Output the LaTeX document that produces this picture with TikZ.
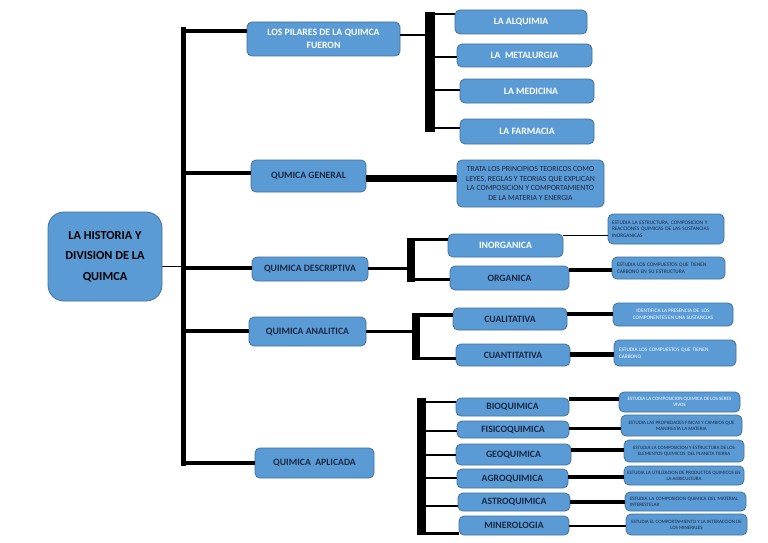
\documentclass[tikz,border=0pt]{standalone}
\usepackage{fontspec}
\setmainfont{Carlito}
\definecolor{boxfill}{HTML}{5B9BD5}
\definecolor{boxline}{HTML}{41719C}
\definecolor{txtdark}{HTML}{1B2740}
\tikzset{
  box/.style={draw=boxline, fill=boxfill, rounded corners=5pt, line width=0.8pt,
    inner sep=1pt, align=center, text=txtdark,
    font=\bfseries\fontsize{9.7}{12.5}\selectfont},
  wbox/.style={box, text=white},
  tiny/.style={font=\fontsize{5.3}{6.7}\selectfont},
  tinier/.style={font=\fontsize{5.0}{6.1}\selectfont},
  barnode/.style={fill=black, draw=none, inner sep=0pt, rectangle},
  link/.style={draw=black, line width=#1},
  link/.default=3pt
}
\begin{document}
\begin{tikzpicture}[x=1pt,y=-1pt]
\useasboundingbox[fill=white] (0,0) rectangle (768,543);
% main
\node[box, rounded corners=16pt, minimum width=114pt, minimum height=89pt, text=black,
  font=\bfseries\fontsize{12.3}{20.5}\selectfont] (main) at (105,256.5)
  {LA HISTORIA Y\\DIVISION DE LA\\QUIMCA};
% bars
\node[barnode, minimum width=5pt, minimum height=439pt] (mainbar) at (183.5,246.5) {};
\node[barnode, minimum width=10pt, minimum height=120pt] (pilbar) at (430,72) {};
\node[barnode, minimum width=8pt, minimum height=44pt] (descbar) at (411,260) {};
\node[barnode, minimum width=8pt, minimum height=47pt] (analbar) at (416,336.5) {};
\node[barnode, minimum width=9pt, minimum height=137pt] (aplbar) at (421.5,466.5) {};
% level 1
\node[wbox, minimum width=153pt, minimum height=34pt] (pil) at (323.5,39) {LOS PILARES DE LA QUIMCA\\FUERON};
\node[box, minimum width=115pt, minimum height=32pt] (gen) at (308.5,176) {QUMICA GENERAL};
\node[box, minimum width=116pt, minimum height=24pt] (desc) at (310,269) {QUIMICA DESCRIPTIVA};
\node[box, minimum width=117pt, minimum height=29pt] (anal) at (307.5,331.5) {QUIMICA ANALITICA};
\node[box, minimum width=119pt, minimum height=30pt] (apl) at (314.5,463) {QUIMICA\ \ APLICADA};
% pilares
\node[wbox, minimum width=132pt, minimum height=24pt] (alq) at (521,22) {LA ALQUIMIA};
\node[wbox, minimum width=135pt, minimum height=23pt] (met) at (524.5,55.5) {LA\ \ METALURGIA};
\node[wbox, minimum width=134pt, minimum height=24pt] (med) at (527,91) {\hspace*{8pt}LA MEDICINA};
\node[wbox, minimum width=134pt, minimum height=25pt] (far) at (527,131.5) {LA FARMACIA};
% general
\node[box, minimum width=147pt, minimum height=47pt, font=\fontsize{7.8}{9.5}\selectfont] (trata) at (530.5,183.5)
  {TRATA LOS PRINCIPIOS TEORICOS COMO\\LEYES, REGLAS Y TEORIAS QUE EXPLICAN\\LA COMPOSICION Y COMPORTAMIENTO\\DE LA MATERIA Y ENERGIA};
% descriptiva
\node[wbox, minimum width=115pt, minimum height=23pt] (inorg) at (505.5,245.5) {INORGANICA};
\node[box, minimum width=119pt, minimum height=24pt] (org) at (509.5,278) {ORGANICA};
\node[box, tiny, minimum width=116pt, minimum height=30pt, text width=108pt, align=left] (inorgT) at (666,229)
  {ESTUDIA LA ESTRUCTURA, COMPOSICION Y\\REACCIONES QUIMICAS DE LAS SUSTANCIAS\\INORGANICAS};
\node[box, tiny, minimum width=113pt, minimum height=22pt, text width=103pt, align=left] (orgT) at (668.5,268)
  {ESTUDIA LOS COMPUESTOS QUE TIENEN\\CARBONO EN SU ESTRUCTURA};
% analitica
\node[box, minimum width=114pt, minimum height=22pt] (cual) at (510,319) {CUALITATIVA};
\node[box, minimum width=114pt, minimum height=22pt] (cuan) at (513,355) {CUANTITATIVA};
\node[wbox, tiny, minimum width=120pt, minimum height=23pt] (cualT) at (673,314.5)
  {IDENTIFICA LA PRESENCIA DE\ \ LOS\\COMPONENTES EN UNA SUSTANCIAS};
\node[wbox, tiny, minimum width=122pt, minimum height=26pt, text width=112pt, align=left] (cuanT) at (675,353)
  {ESTUDIA LOS COMPUESTOS QUE TIENEN\\CARBONO};
% aplicada
\node[box, minimum width=113pt, minimum height=18pt] (bio) at (512.5,407) {BIOQUIMICA};
\node[box, minimum width=112pt, minimum height=17pt] (fis) at (513,429.5) {FISICOQUIMICA};
\node[box, minimum width=115pt, minimum height=21pt] (geo) at (513.5,454.5) {GEOQUIMICA};
\node[box, minimum width=111pt, minimum height=19pt] (agro) at (512.5,478.5) {AGROQUIMICA};
\node[box, minimum width=112pt, minimum height=18pt] (astro) at (514,502) {ASTROQUIMICA};
\node[box, minimum width=110pt, minimum height=19pt] (mine) at (514,525.5) {MINEROLOGIA};
\node[wbox, tinier, minimum width=121pt, minimum height=20pt] (b1) at (679.5,402)
  {ESTUDIA LA COMPOSICION QUIMICA DE LOS SERES\\VIVOS};
\node[box, tinier, minimum width=121pt, minimum height=21pt] (b2) at (681.5,425.5)
  {ESTUDIA LAS PROPIEDADES FISICAS Y CAMBIOS QUE\\MANIFIESTA LA MATERIA};
\node[box, tinier, minimum width=120pt, minimum height=22pt] (b3) at (684,451)
  {ESTUDIA LA COMPOSICION Y ESTRUCTURA DE LOS\\ELEMENTOS QUIMICOS\ \ DEL PLANETA TIERRA};
\node[box, tinier, minimum width=120pt, minimum height=19pt] (b4) at (684,475.5)
  {ESTUDIA LA UTILIZACION DE PRODUCTOS QUIMICOS EN\\LA AGRICULTURA};
\node[box, tinier, minimum width=121pt, minimum height=19pt, text width=111pt, align=left] (b5) at (685.5,501.5)
  {ESTUDIA LA COMPOSICION QUIMICA DEL MATERIAL\\INTERESTELAR};
\node[box, tinier, minimum width=121pt, minimum height=21pt] (b6) at (686.5,524.5)
  {ESTUDIA EL COMPORTAMIENTO Y LA INTERACCION DE\\LOS MINERALES};
% connectors: main
\draw[link=1pt] (main.east |- 0,266) -- (mainbar.center |- 0,266);
\draw[link=4pt] (mainbar.center |- 0,31) -- (pil.west |- 0,31);
\draw[link=4pt] (mainbar.center |- 0,173) -- (gen.west |- 0,173);
\draw[link=4pt] (mainbar.center |- 0,268) -- (desc.west |- 0,268);
\draw[link=4pt] (mainbar.center |- 0,331) -- (anal.west |- 0,331);
\draw[link=4pt] (mainbar.center |- 0,463) -- (apl.west |- 0,463);
% pilares
\draw[link=1.5pt] (pil.east |- 0,35) -- (pilbar.center |- 0,35);
\draw[link=1.5pt] (pilbar.center |- 0,14) -- (alq.west |- 0,14);
\draw[link=1.5pt] (pilbar.center |- 0,57) -- (met.west |- 0,57);
\draw[link=1.5pt] (pilbar.center |- 0,90) -- (med.west |- 0,90);
\draw[link=1.5pt] (pilbar.center |- 0,128) -- (far.west |- 0,128);
% general
\draw[link=7pt] (gen.east |- 0,178) -- (trata.west |- 0,178);
% descriptiva
\draw[link=3pt] (desc.east |- 0,268) -- (descbar.center |- 0,268);
\draw[link=3pt] (descbar.center |- 0,239) -- (inorg.west |- 0,239);
\draw[link=3pt] (descbar.center |- 0,279) -- (org.west |- 0,279);
\draw[link=1pt] (inorg.east |- 0,235) -- (inorgT.west |- 0,235);
\draw[link=4pt] (org.east |- 0,270) -- (orgT.west |- 0,270);
% analitica
\draw[link=3pt] (anal.east |- 0,331) -- (analbar.center |- 0,331);
\draw[link=4pt] (analbar.center |- 0,315) -- (cual.west |- 0,315);
\draw[link=3pt] (analbar.center |- 0,358) -- (cuan.west |- 0,358);
\draw[link=4pt] (cual.east |- 0,314) -- (cualT.west |- 0,314);
\draw[link=5pt] (cuan.east |- 0,354) -- (cuanT.west |- 0,354);
% aplicada
\draw[link=2.5pt] (aplbar.center |- 0,402) -- (bio.west |- 0,402);
\draw[link=2.5pt] (aplbar.center |- 0,431) -- (fis.west |- 0,431);
\draw[link=2.5pt] (aplbar.center |- 0,455) -- (geo.west |- 0,455);
\draw[link=2.5pt] (aplbar.center |- 0,478) -- (agro.west |- 0,478);
\draw[link=2.5pt] (aplbar.center |- 0,506) -- (astro.west |- 0,506);
\draw[link=2.5pt] (aplbar.center |- 0,533.5) -- (mine.west |- 0,533.5);
\draw[link=4pt] (bio.east |- 0,399) -- (b1.west |- 0,399);
\draw[link=3pt] (fis.east |- 0,428) -- (b2.west |- 0,428);
\draw[link=4pt] (geo.east |- 0,450) -- (b3.west |- 0,450);
\draw[link=4pt] (agro.east |- 0,477) -- (b4.west |- 0,477);
\draw[link=4pt] (astro.east |- 0,502) -- (b5.west |- 0,502);
\draw[link=1.5pt] (mine.east |- 0,526) -- (b6.west |- 0,526);
\end{tikzpicture}
\end{document}
